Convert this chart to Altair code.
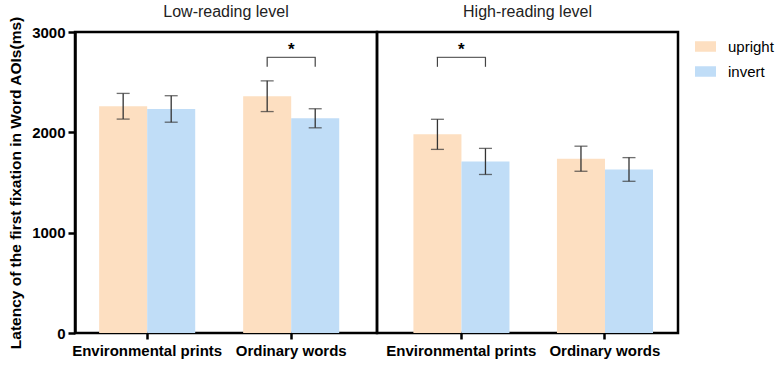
import altair as alt
import pandas as pd

levels = ["Low-reading level", "High-reading level"]
groups = ["Environmental prints", "Ordinary words"]
conditions = ["upright", "invert"]

# order: Env upright, Env invert, Ord upright, Ord invert
low_means = [2260, 2233, 2360, 2140]
low_errs = [128, 132, 153, 95]
high_means = [1980, 1710, 1737, 1630]
high_errs = [150, 130, 125, 118]

sig_groups = ["Ordinary words", "Environmental prints"]
bracket_top = 2747
bracket_bottom = 2653
star_y = 2825

colors = ["#FDDFC1", "#C0DDF7"]
FONT = "Liberation Sans"


def make_df(means, errs):
    rows = []
    i = 0
    for g in groups:
        for c in conditions:
            rows.append({"group": g, "cond": c, "mean": means[i],
                         "lo": means[i] - errs[i], "hi": means[i] + errs[i]})
            i += 1
    return pd.DataFrame(rows)


def panel(level, means, errs, sig_group, align, show_y, width, title_offset):
    df = make_df(means, errs)
    xscale = alt.Scale(domain=groups, paddingInner=0.333, paddingOuter=0.215, align=align)
    xaxis = alt.Axis(title=None, labelAngle=0, labelFontWeight="bold", labelFontSize=15,
                     labelColor="black", tickColor="black", tickWidth=2.5, tickSize=6,
                     domain=False, labelPadding=4)
    yscale = alt.Scale(domain=[0, 3000], nice=False)
    if show_y:
        yaxis = alt.Axis(title="Latency of the first fixation in Word AOIs(ms)",
                         titleFontSize=15.5, titleFontWeight="bold", titleColor="black",
                         values=[0, 1000, 2000, 3000], format="d", labelFontWeight="bold",
                         labelFontSize=15, labelColor="black", tickColor="black",
                         tickWidth=2.5, tickSize=7, domainColor="black", domainWidth=2.5,
                         grid=False, titlePadding=8, labelPadding=3)
    else:
        yaxis = None

    x = alt.X("group:N", sort=groups, scale=xscale, axis=xaxis)
    xo = alt.XOffset("cond:N", sort=conditions,
                     scale=alt.Scale(domain=conditions, paddingInner=0, paddingOuter=0))

    base = alt.Chart(df)
    bars = base.mark_bar().encode(
        x=x, xOffset=xo,
        y=alt.Y("mean:Q", scale=yscale, axis=yaxis),
        color=alt.Color("cond:N", sort=conditions,
                        scale=alt.Scale(domain=conditions, range=colors),
                        legend=alt.Legend(title=None, orient="right", offset=11, padding=4,
                                          symbolType="M-1,-0.5H1V0.5H-1Z", symbolSize=441,
                                          symbolStrokeWidth=0, labelFontSize=15,
                                          labelColor="black", rowPadding=6,
                                          labelOffset=12)),
    )
    err = base.mark_rule(color="#333333", strokeWidth=1.3).encode(
        x=x, xOffset=xo, y="lo:Q", y2="hi:Q")
    cap_lo = base.mark_tick(orient="horizontal", size=13, thickness=1.3, color="#333333").encode(
        x=x, xOffset=xo, y="lo:Q")
    cap_hi = base.mark_tick(orient="horizontal", size=13, thickness=1.3, color="#333333").encode(
        x=x, xOffset=xo, y="hi:Q")

    sig_df = pd.DataFrame({"group": [sig_group, sig_group], "cond": conditions,
                           "top": [bracket_top, bracket_top],
                           "bottom": [bracket_bottom, bracket_bottom]})
    legs = alt.Chart(sig_df).mark_rule(color="#444444", strokeWidth=1.2).encode(
        x=x, xOffset=xo, y="bottom:Q", y2="top:Q")
    top_df = pd.DataFrame({"group": [sig_group], "top": [bracket_top], "star": [star_y], "t": ["*"]})
    hbar = alt.Chart(top_df).mark_tick(orient="horizontal", size=49, thickness=1.2,
                                       color="#222222").encode(x=x, y="top:Q")
    star = alt.Chart(top_df).mark_text(fontSize=17, fontWeight="bold", color="black",
                                       baseline="middle").encode(x=x, y="star:Q", text="t:N")

    return alt.layer(bars, err, cap_lo, cap_hi, legs, hbar, star).properties(
        width=width, height=301,
        title=alt.TitleParams(level, fontSize=16, fontWeight="normal", color="#222222",
                              offset=title_offset, anchor="middle", frame="group"))


left = panel(levels[0], low_means, low_errs, sig_groups[0], 0.39, True, 302, -4)
right = panel(levels[1], high_means, high_errs, sig_groups[1], 0.59, False, 301, 12)

chart = alt.hconcat(left, right, spacing=0, bounds="flush").properties(
    padding={"left": 7, "top": 2, "right": 0, "bottom": 0}
).configure(font=FONT).configure_view(stroke="black", strokeWidth=2.5)

chart.save("out.html", embed_options={"renderer": "svg", "actions": False})
